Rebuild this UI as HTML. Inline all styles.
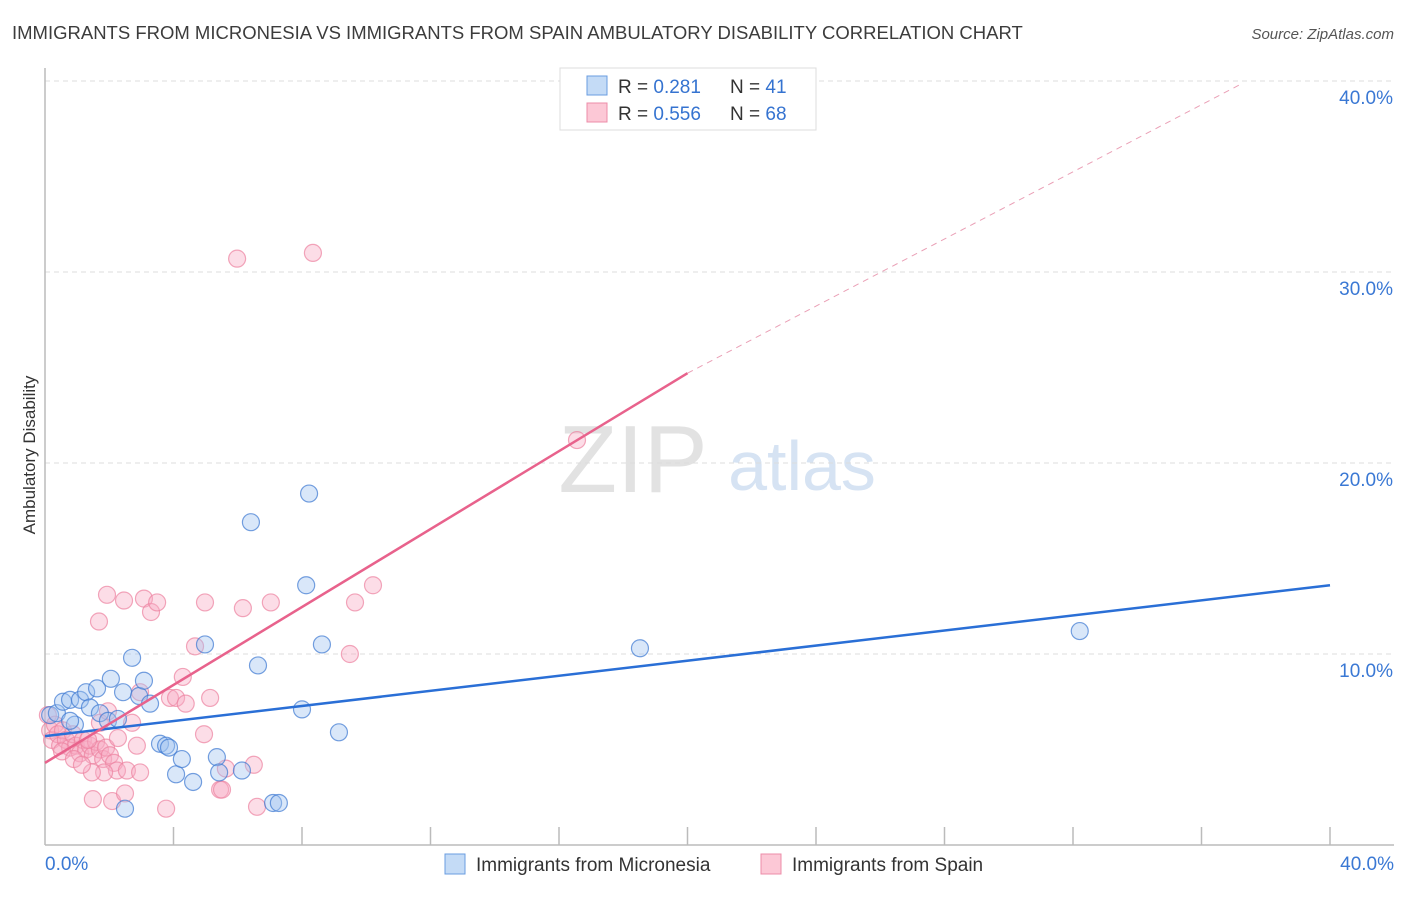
<!DOCTYPE html>
<html><head><meta charset="utf-8"><style>
body{margin:0;background:#fff;font-family:"Liberation Sans",sans-serif;}
svg text{font-family:"Liberation Sans",sans-serif;}
</style></head><body>
<svg id="chart" width="1406" height="892" viewBox="0 0 1406 892">
<text x="12" y="39" font-size="18.5" fill="#3c3c3c">IMMIGRANTS FROM MICRONESIA VS IMMIGRANTS FROM SPAIN AMBULATORY DISABILITY CORRELATION CHART</text>
<text x="1394" y="39" font-size="15" font-style="italic" fill="#555" text-anchor="end">Source: ZipAtlas.com</text>
<text x="35" y="455" font-size="17" fill="#333" text-anchor="middle" transform="rotate(-90 35 455)">Ambulatory Disability</text>
<g>
<text x="633" y="492" font-size="96" font-family="Liberation Serif" fill="#e2e2e2" text-anchor="middle">ZIP</text>
<text x="802" y="490" font-size="70" fill="#d6e3f3" text-anchor="middle">atlas</text>
</g>
<g id="grid"></g>
<g id="axes"></g>
<g id="marks"></g>
<g>
<rect x="560" y="68" width="256" height="62" fill="#fff" stroke="#ddd"/>
<rect x="587" y="76" width="20" height="19" fill="#c4dbf6" stroke="#6a9ce0"/>
<rect x="587" y="103" width="20" height="19" fill="#fcc8d6" stroke="#ec8ca8"/>
<text x="618" y="93" font-size="19" fill="#333">R = <tspan fill="#3573d0">0.281</tspan></text>
<text x="730" y="93" font-size="19" fill="#333">N = <tspan fill="#3573d0">41</tspan></text>
<text x="618" y="120" font-size="19" fill="#333">R = <tspan fill="#3573d0">0.556</tspan></text>
<text x="730" y="120" font-size="19" fill="#333">N = <tspan fill="#3573d0">68</tspan></text>
</g>
<g>
<rect x="445" y="854" width="20" height="20" fill="#c4dbf6" stroke="#6a9ce0"/>
<text x="476" y="871" font-size="19" fill="#333">Immigrants from Micronesia</text>
<rect x="761" y="854" width="20" height="20" fill="#fcc8d6" stroke="#ec8ca8"/>
<text x="792" y="871" font-size="19" fill="#333">Immigrants from Spain</text>
</g>
</svg>
<script>
const xTicks=[0,40];
const yTicks=[10,20,30,40];
const blueX=[0.16,0.37,0.56,0.78,0.93,1.09,1.28,1.40,1.62,1.71,1.96,2.05,2.27,2.43,2.71,2.93,3.08,3.27,3.58,3.77,3.86,4.08,4.26,4.61,4.98,5.35,5.42,6.13,6.41,6.63,7.10,7.28,8.00,8.13,8.22,8.62,9.15,18.52,32.21,2.49,0.78];
const blueY=[6.8,6.9,7.5,7.6,6.3,7.6,8.0,7.2,8.2,6.9,6.5,8.7,6.6,8.0,9.8,7.8,8.6,7.4,5.3,5.2,5.1,3.7,4.5,3.3,10.5,4.6,3.8,3.9,16.9,9.4,2.2,2.2,7.1,13.6,18.4,10.5,5.9,10.3,11.2,1.9,6.5];
const pinkX=[0.09,0.16,0.22,0.31,0.40,0.47,0.56,0.65,0.78,0.87,0.96,1.09,1.18,1.28,1.40,1.49,1.59,1.71,1.81,1.90,2.02,2.15,2.24,1.84,1.46,1.49,2.09,2.55,2.49,2.96,2.86,2.71,1.68,1.93,2.46,3.08,3.30,3.49,2.96,3.89,4.08,4.29,4.38,4.67,4.98,4.95,5.14,5.45,5.51,5.63,6.16,6.50,6.60,7.03,5.98,8.34,3.77,9.49,9.65,10.21,16.56,1.71,1.34,1.96,2.27,0.53,0.90,1.15];
const pinkY=[6.8,6.0,5.5,6.3,5.8,5.2,6.0,5.5,5.1,5.8,5.2,4.8,5.5,5.0,5.2,4.7,5.4,5.0,4.5,5.1,4.7,4.3,3.9,3.8,3.8,2.4,2.3,3.9,2.7,3.8,5.2,6.4,11.7,13.1,12.8,12.9,12.2,12.7,8.0,7.7,7.7,8.8,7.4,10.4,12.7,5.8,7.7,2.9,2.9,4.0,12.4,4.2,2.0,12.7,30.7,31.0,1.9,10.0,12.7,13.6,21.2,6.4,5.5,7.0,5.6,4.9,4.5,4.2];
const blueLine=[0,5.7,40,13.6];
const pinkLine=[0,4.3,20,24.7,37.3,39.9];
const X=v=>45+v/40*1285, Y=v=>845-v*19.1;
const NS='http://www.w3.org/2000/svg';
function mk(tag,attrs,parent){const e=document.createElementNS(NS,tag);for(const k in attrs)e.setAttribute(k,attrs[k]);document.getElementById(parent).appendChild(e);return e;}
yTicks.forEach(t=>{
 const l=mk('line',{x1:45,x2:1394,y1:Y(t),y2:Y(t),stroke:'#dcdcdc','stroke-dasharray':'5,4'},'grid');
 
 
 const tx=mk('text',{x:1393,y:Y(t)+23,'font-size':19,fill:'#3a78d4','text-anchor':'end'},'axes');
 tx.textContent=t.toFixed(1)+'%';
 
 
});
const ax=mk('line',{x1:45,x2:1394,y1:845,y2:845,stroke:'#bbb','stroke-width':1.5},'axes');


const ay=mk('line',{x1:45,x2:45,y1:68,y2:845,stroke:'#bbb','stroke-width':1.5},'axes');


for(let i=1;i<=10;i++){
 const tk=mk('line',{x1:X(i*4),x2:X(i*4),y1:827,y2:845,stroke:'#bbb','stroke-width':1.5},'axes');
 
 
}
xTicks.forEach((t,i)=>{
 const tx=mk('text',{x:i==0?45:1394,y:870,'font-size':19,fill:'#3a78d4','text-anchor':i==0?'start':'end'},'axes');
 tx.textContent=t.toFixed(1)+'%';
 
 
});
pinkX.forEach((v,i)=>{
 const c=mk('circle',{cx:X(v),cy:Y(pinkY[i]),r:8.5,fill:'rgba(248,170,195,0.4)',stroke:'rgba(236,130,160,0.7)','stroke-width':1.2},'marks');
 
 
});
blueX.forEach((v,i)=>{
 const c=mk('circle',{cx:X(v),cy:Y(blueY[i]),r:8.5,fill:'rgba(160,196,240,0.4)',stroke:'rgba(60,120,210,0.7)','stroke-width':1.2},'marks');
 
 
});
const bl=mk('line',{x1:X(blueLine[0]),y1:Y(blueLine[1]),x2:X(blueLine[2]),y2:Y(blueLine[3]),stroke:'#2a6fd6','stroke-width':2.5},'marks');


const pl=mk('line',{x1:X(pinkLine[0]),y1:Y(pinkLine[1]),x2:X(pinkLine[2]),y2:Y(pinkLine[3]),stroke:'#e8628c','stroke-width':2.5},'marks');


const pd=mk('line',{x1:X(pinkLine[2]),y1:Y(pinkLine[3]),x2:X(pinkLine[4]),y2:Y(pinkLine[5]),stroke:'#eaa0b6','stroke-width':1,'stroke-dasharray':'6,5'},'marks');


</script>
</body></html>
